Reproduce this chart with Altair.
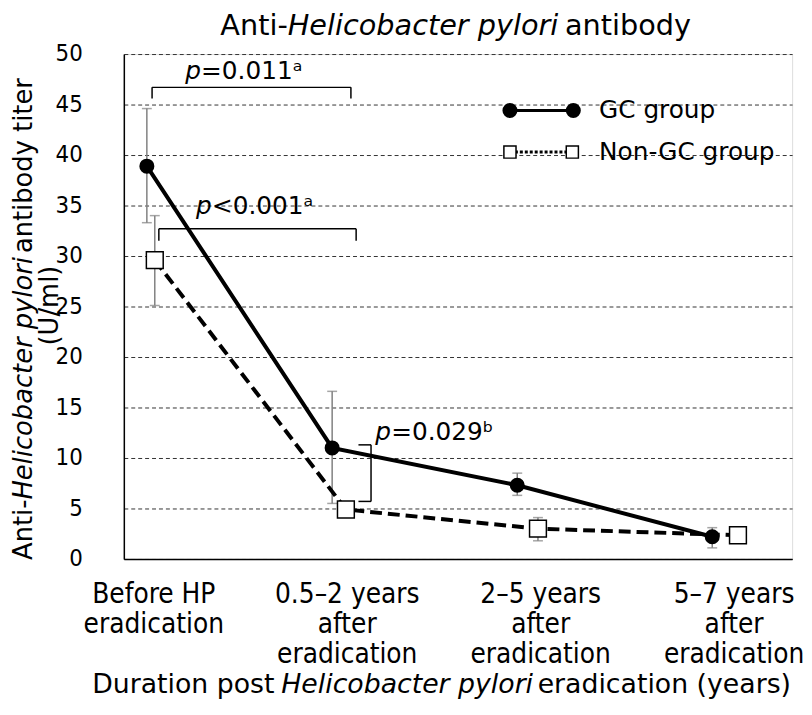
import altair as alt
import pandas as pd

# ---------------- data ----------------
categories = ["Before HP\neradication", "0.5–2 years\nafter\neradication",
              "2–5 years\nafter\neradication", "5–7 years\nafter\neradication"]
cat_pos = [0, 1, 2, 3]

gc_x = [-0.036, 0.922, 1.879, 2.887]
gc_mean = [38.9, 11.0, 7.3, 2.2]
gc_low = [33.3, 5.5, 6.3, 1.1]
gc_high = [44.6, 16.6, 8.5, 3.1]

non_x = [0.005, 0.993, 1.986, 3.020]
non_mean = [29.6, 4.9, 3.0, 2.35]
non_low = [25.1, 4.5, 1.8, 2.0]
non_high = [34.0, 5.3, 4.1, 2.7]

y_ticks = [0, 5, 10, 15, 20, 25, 30, 35, 40, 45, 50]

# bracket segments (x, y) -> (x2, y2) in data units
br_x = [-0.009, -0.009, 1.019, 0.026, 0.026, 1.046, 1.123, 1.058, 1.058]
br_x2 = [1.019, -0.009, 1.019, 1.046, 0.026, 1.046, 1.123, 1.123, 1.123]
br_y = [46.7, 46.7, 46.7, 32.7, 32.7, 32.7, 11.3, 11.3, 5.7]
br_y2 = [46.7, 45.6, 45.6, 32.7, 31.5, 31.5, 5.7, 11.3, 5.7]

p_rest = ["=0.011ᵃ", "<0.001ᵃ", "=0.029ᵇ"]

W, H = 675, 510
FONT = "DejaVu Sans"
FONT_C = "DejaVu Sans Condensed"

xscale = alt.Scale(domain=[-0.155, 3.3], nice=False, zero=False)
yscale = alt.Scale(domain=[0, 50], nice=False, zero=True)
x_axis = alt.Axis(labels=False, ticks=False, grid=False, domainColor="black",
                  domainWidth=1.5, title=None)
y_axis = alt.Axis(values=y_ticks, grid=True, gridDash=[4, 3], gridColor="#333333",
                  gridWidth=1, ticks=False, domainColor="black", domainWidth=1.5,
                  labelFont=FONT_C, labelFontSize=24, labelColor="black",
                  labelPadding=42, title=None)

df_gc = pd.DataFrame({"x": gc_x, "y": gc_mean, "lo": gc_low, "hi": gc_high})
df_non = pd.DataFrame({"x": non_x, "y": non_mean, "lo": non_low, "hi": non_high})
df_err = pd.concat([df_gc, df_non], ignore_index=True)
df_br = pd.DataFrame({"x": br_x, "x2": br_x2, "y": br_y, "y2": br_y2})
df_cat = pd.DataFrame({"pos": cat_pos, "label": categories})
one = pd.DataFrame({"a": [0]})

X = alt.X("x:Q", scale=xscale, axis=x_axis)
Y = alt.Y("y:Q", scale=yscale, axis=y_axis)

err_rule = alt.Chart(df_err).mark_rule(color="#808080", strokeWidth=1.5).encode(
    x=X, y=alt.Y("lo:Q", scale=yscale, axis=y_axis), y2="hi:Q")
err_lo = alt.Chart(df_err).mark_tick(color="#808080", thickness=1.5, size=10,
                                     orient="horizontal").encode(
    x=X, y=alt.Y("lo:Q", scale=yscale, axis=y_axis))
err_hi = alt.Chart(df_err).mark_tick(color="#808080", thickness=1.5, size=10,
                                     orient="horizontal").encode(
    x=X, y=alt.Y("hi:Q", scale=yscale, axis=y_axis))

non_line = alt.Chart(df_non).mark_line(color="black", strokeWidth=4,
                                       strokeDash=[12, 6]).encode(x=X, y=Y)
gc_line = alt.Chart(df_gc).mark_line(color="black", strokeWidth=4).encode(x=X, y=Y)
non_pts = alt.Chart(df_non).mark_point(shape="square", size=289, filled=True,
                                       fill="white", stroke="black",
                                       strokeWidth=1.5, opacity=1).encode(x=X, y=Y)
gc_pts = alt.Chart(df_gc).mark_point(shape="circle", size=230, filled=True,
                                     color="black", opacity=1).encode(x=X, y=Y)

brackets = alt.Chart(df_br).mark_rule(color="black", strokeWidth=1.5).encode(
    x=X, x2="x2:Q", y=Y, y2="y2:Q")

# x tick labels
xlabels = alt.Chart(df_cat).mark_text(lineBreak="\n", font=FONT_C, fontSize=28,
                                      lineHeight=30.5, baseline="alphabetic",
                                      align="center", color="black").encode(
    x=alt.X("pos:Q", scale=xscale, axis=x_axis), y=alt.value(554), text="label:N")


def txt(s, x, y, size, italic=False, angle=0, align="left", baseline="alphabetic", font=FONT):
    kw = dict(font=font, fontSize=size, align=align, baseline=baseline, color="black")
    if italic:
        kw["fontStyle"] = "italic"
    if angle:
        kw["angle"] = angle
    return alt.Chart(one).mark_text(**kw).encode(
        x=alt.value(x), y=alt.value(y), text=alt.value(s))


texts = []
# chart title (page coords minus plot origin 125, 51)
ts = 29
tb = 32 - 51
texts.append(txt("Anti-", 222.5 - 125, tb, ts))
texts.append(txt("Helicobacter pylori", 290.6 - 125, tb, ts, italic=True))
texts.append(txt("antibody", 570.5 - 125, tb, ts))
# x title
xs = 27
xb = 696 - 51
texts.append(txt("Duration post", 93 - 125, xb, xs))
texts.append(txt("Helicobacter pylori", 284 - 125, xb, xs, italic=True))
texts.append(txt("eradication (years)", 543 - 125, xb, xs))
# y title (rotated)
ys = 26
yx = 24.5 - 125
texts.append(txt("Anti-", yx, 562 - 51, ys, angle=270, baseline="middle"))
texts.append(txt("Helicobacter pylori", yx, 501 - 51, ys, italic=True, angle=270, baseline="middle"))
texts.append(txt("antibody titer", yx, 252 - 51, ys, angle=270, baseline="middle"))
texts.append(txt("(U/ml)", 50.5 - 125, 305 - 51, ys, angle=270, align="center", baseline="middle"))
# p-values
ps = 25
p_pos = [(187, 76), (198, 213), (379, 441)]
for (px, py), rest in zip(p_pos, p_rest):
    texts.append(txt("p", px - 125, py - 51, ps, italic=True))
    texts.append(txt(rest, px - 125 + 16, py - 51, ps))

# legend
leg_line1 = alt.Chart(one).mark_rule(color="black", strokeWidth=3).encode(
    x=alt.value(390), x2=alt.value(454), y=alt.value(57))
leg_line2 = alt.Chart(one).mark_rule(color="black", strokeWidth=3, strokeDash=[3, 2]).encode(
    x=alt.value(390), x2=alt.value(453), y=alt.value(99))
leg_c1 = alt.Chart(one).mark_point(shape="circle", size=230, filled=True, color="black",
                                   opacity=1).encode(x=alt.value(390), y=alt.value(57))
leg_c2 = alt.Chart(one).mark_point(shape="circle", size=230, filled=True, color="black",
                                   opacity=1).encode(x=alt.value(454), y=alt.value(57))
leg_s1 = alt.Chart(one).mark_point(shape="square", size=150, filled=True, fill="white",
                                   stroke="black", strokeWidth=1.5, opacity=1).encode(
    x=alt.value(390), y=alt.value(99))
leg_s2 = alt.Chart(one).mark_point(shape="square", size=150, filled=True, fill="white",
                                   stroke="black", strokeWidth=1.5, opacity=1).encode(
    x=alt.value(453), y=alt.value(99))
texts.append(txt("GC group", 480, 57, 25, baseline="middle"))
texts.append(txt("Non-GC group", 480, 99, 25, baseline="middle"))

chart = alt.layer(
    err_rule, err_lo, err_hi, brackets, non_line, gc_line, non_pts, gc_pts, xlabels,
    leg_line1, leg_line2, leg_c1, leg_c2, leg_s1, leg_s2, *texts
).properties(
    width=W, height=H,
    autosize=alt.AutoSizeParams(type="none"),
    padding={"left": 117, "top": 43, "right": 12, "bottom": 146},
).configure_view(stroke=None).configure(background="white")

chart.save("out.html", embed_options={"renderer": "svg", "actions": False})
